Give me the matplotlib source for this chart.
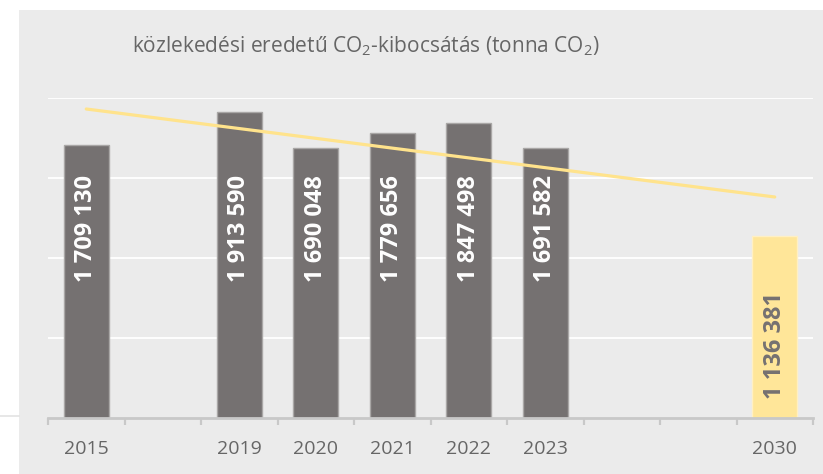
import matplotlib
matplotlib.use("Agg")
import matplotlib.pyplot as plt
from matplotlib.patches import Rectangle
from matplotlib.lines import Line2D
import numpy as np

plt.rcParams['font.family'] = ['Open Sans', 'DejaVu Sans']
plt.rcParams['mathtext.fontset'] = 'custom'
plt.rcParams['mathtext.rm'] = 'Open Sans'

# ---- data ----
categories = ["2015", "", "2019", "2020", "2021", "2022", "2023", "", "", "2030"]
values = [1709130, None, 1913590, 1690048, 1779656, 1847498, 1691582, None, None, 1136381]
labels = ["1 709 130", "", "1 913 590", "1 690 048", "1 779 656", "1 847 498", "1 691 582", "", "", "1 136 381"]
is_target = [False, False, False, False, False, False, False, False, False, True]
trend_cats = [0, 9]
trend_values = [1933000, 1381600]
title = "közlekedési eredetű CO$\\mathregular{_2}$-kibocsátás (tonna CO$\\mathregular{_2}$)"

W, H = 823, 474
fig = plt.figure(figsize=(W / 100, H / 100), dpi=100)
fig.patch.set_facecolor("white")

# gray panel
fig.add_artist(Rectangle((19 / W, 0), (W - 19) / W, (H - 10) / H, transform=fig.transFigure,
                         facecolor="#EBEBEB", edgecolor="none", zorder=0))
fig.add_artist(Line2D([0, 19 / W], [1 - 416 / H, 1 - 416 / H], transform=fig.transFigure,
                      color="#E3E3E3", lw=1.2, zorder=0))

left, right, bottom, top = 48, 813, 417.5, 98.3
ax = fig.add_axes([left / W, 1 - bottom / H, (right - left) / W, (bottom - top) / H])
ax.set_facecolor("none")

x = np.arange(len(categories))
bar_w = 0.59
for xi, v, lab, tgt in zip(x, values, labels, is_target):
    if v is None:
        continue
    if tgt:
        ax.bar(xi, v, width=bar_w, color="#FFE699", edgecolor="#FFF0C4", linewidth=1.0, zorder=2)
        ax.text(xi, 451000, lab, rotation=90, ha="center", va="center", fontsize=17,
                fontweight="bold", color="#757171", zorder=4)
    else:
        ax.bar(xi, v, width=bar_w, color="#757171", edgecolor="#A9A7A6", linewidth=1.0, zorder=2)
        ax.text(xi, 1185000, lab, rotation=90, ha="center", va="center", fontsize=17,
                fontweight="bold", color="white", zorder=4)

ax.plot(trend_cats, trend_values, color="#FFE38C", lw=2.3, zorder=3, solid_capstyle="round")

ax.set_xlim(-0.5, len(categories) - 0.5)
ax.set_ylim(0, 2000000)
ax.set_yticks([500000, 1000000, 1500000, 2000000])
ax.yaxis.grid(True, color="white", lw=1.3, zorder=1)
ax.set_axisbelow(True)
ax.tick_params(axis="y", left=False, labelleft=False)

ax.set_xticks(x)
ax.set_xticklabels(categories, fontsize=14, color="#666666")
ax.set_xticks(np.arange(-0.5, len(categories)), minor=True)
ax.tick_params(axis="x", which="major", length=0, pad=16)
ax.tick_params(axis="x", which="minor", length=5, width=1.6, color="#C8C8C8", direction="out")

for s in ["top", "left", "right"]:
    ax.spines[s].set_visible(False)
ax.spines["bottom"].set_color("#C8C8C8")
ax.spines["bottom"].set_linewidth(2.0)
ax.spines["bottom"].set_zorder(5)

fig.text(366 / W, 1 - 52 / H, title, ha="center", va="baseline", fontsize=15, color="#666666")

fig.savefig("out.png", dpi=100)
